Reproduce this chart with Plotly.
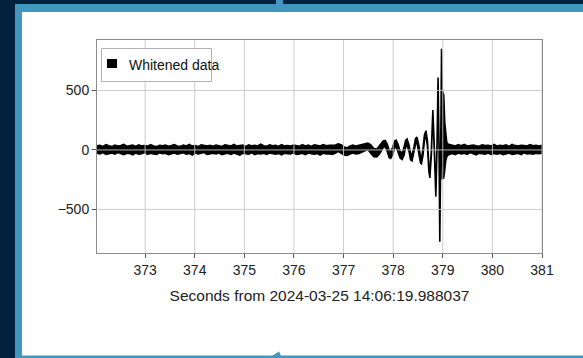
import numpy as np
import plotly.graph_objects as go

# ---------------- data ----------------
# noise before the chirp (band upper / lower envelope)
upper_pre = [34, 39, 30, 44, 35, 28, 41, 33, 37, 47,
             31, 36, 40, 29, 43, 34, 37, 32, 45, 34,
             28, 39, 35, 41, 31, 37, 44, 33, 30, 40,
             34, 46, 32, 37, 28, 42, 36, 33, 39, 31,
             41, 35, 29, 44, 37, 34, 47, 32, 37, 40,
             30, 43, 34, 38, 33, 49, 36, 31, 42, 35,
             39, 29, 44, 34, 37, 32, 41, 36, 31, 44,
             34, 40, 30, 43, 37, 33, 45, 35, 39, 41,
             40, 52, 44, 25, 18, 34, 40, 32, 38, 48,
             56, 58, 42, 12, 8, 35]
lower_pre = [-28, -34, -22, -38, -31, -26, -36, -21, -33, -39,
             -27, -30, -41, -25, -35, -31, -22, -37, -28, -34,
             -38, -24, -32, -28, -40, -30, -26, -35, -31, -23,
             -36, -29, -42, -25, -34, -30, -22, -38, -32, -28,
             -34, -25, -39, -31, -28, -37, -26, -33, -43, -27,
             -31, -35, -23, -40, -30, -34, -28, -37, -25, -32,
             -36, -29, -41, -27, -31, -34, -24, -37, -33, -28,
             -39, -26, -32, -35, -30, -43, -27, -34, -31, -37,
             -28, -12, -25, -42, -46, -34, -26, -34, -30, -20,
             -8, 5, -30, -56, -58, -30]
t_pre_start, t_pre_end = 372.03, 377.73

# chirp
t_chirp = [377.76, 377.80, 377.84, 377.88, 377.92, 377.95, 377.99, 378.03, 378.06, 378.10,
           378.14, 378.18, 378.22, 378.25, 378.28, 378.32, 378.35, 378.38, 378.42, 378.45,
           378.48, 378.52, 378.55, 378.57, 378.60, 378.63, 378.66, 378.69, 378.72, 378.74,
           378.77, 378.80, 378.83, 378.86, 378.885, 378.905, 378.925, 378.94, 378.958, 378.975,
           378.99, 379.02, 379.04, 379.06, 379.08, 379.10]
upper_chirp = [50, 75, 80, 50, -5, -15, 22, 75, 82, 45,
               -12, -28, 22, 80, 92, 40, -28, -42, 25, 95,
               108, 35, -62, -72, 8, 125, 162, 80, -128, -198,
               2, 335, 22, -358, 70, 608, 22, -728, 30, 850,
               500, 460, 230, 105, 65, 50]
lower_chirp = [-12, 22, 28, -12, -65, -72, -40, 18, 28, -12,
               -68, -80, -42, 22, 38, -12, -82, -92, -28, 48,
               62, -18, -108, -115, -48, 78, 128, 32, -178, -235,
               -42, 302, -22, -392, 28, 568, -32, -772, -32, 790,
               -240, -235, -165, -90, -58, -45]

# noise after the chirp
upper_post = [48, 40, 34, 44, 36, 47, 33, 38, 42, 35, 31, 43, 37, 40, 34, 46,
              32, 38, 35, 42, 30, 47, 36, 34, 40, 37, 33, 44, 35, 39, 32, 38]
lower_post = [-38, -30, -39, -26, -34, -28, -38, -22, -33, -41, -27, -31, -36, -25, -38, -30,
              -35, -28, -40, -31, -26, -37, -33, -28, -39, -23, -34, -30, -36, -27, -32, -28]
t_post_start, t_post_end = 379.13, 381.0

x_range = [372.03, 381.0]
y_range = [-866, 924]
x_ticks = [373, 374, 375, 376, 377, 378, 379, 380, 381]
y_ticks = [-500, 0, 500]
series_name = "Whitened data"
x_title = "Seconds from 2024-03-25 14:06:19.988037"

# ---------------- build ----------------
t_pre = list(np.linspace(t_pre_start, t_pre_end, len(upper_pre)))
t_post = list(np.linspace(t_post_start, t_post_end, len(upper_post)))
t_all = t_pre + t_chirp + t_post
up_all = upper_pre + upper_chirp + upper_post
lo_all = lower_pre + lower_chirp + lower_post

W, H = 583, 358
ML, MR, MT, MB = 97, 41, 40, 105
PW, PH = W - ML - MR, H - MT - MB


def X(px):
    return (px - ML) / PW


def Y(py):
    return (H - MB - py) / PH


FONT = "Liberation Sans, Arial, sans-serif"
NAVY = "#01213f"
BLUE = "#4297be"

fig = go.Figure()
fig.add_trace(go.Scatter(
    x=t_all + t_all[::-1], y=up_all + lo_all[::-1],
    fill="toself", fillcolor="black", mode="lines",
    line=dict(color="black", width=1.6), name=series_name, showlegend=False,
    hoverinfo="skip"))

shapes = []
# page decoration
shapes.append(dict(type="rect", xref="paper", yref="paper", x0=X(15), x1=X(W + 2), y0=Y(4), y1=Y(H + 2),
                   fillcolor=BLUE, line=dict(width=0), layer="below"))
shapes.append(dict(type="rect", xref="paper", yref="paper", x0=X(22), x1=X(W + 2), y0=Y(12), y1=Y(355.5),
                   fillcolor="white", line=dict(width=0), layer="below"))
shapes.append(dict(type="rect", xref="paper", yref="paper", x0=X(276), x1=X(283), y0=Y(-1), y1=Y(4),
                   fillcolor=BLUE, line=dict(width=0), layer="below"))
shapes.append(dict(type="path", xref="paper", yref="paper",
                   path=f"M {X(272)},{Y(356)} L {X(279)},{Y(351.5)} L {X(281)},{Y(356)} Z",
                   fillcolor=BLUE, line=dict(width=0), layer="below"))
# grid drawn over the data
GRID = "rgba(200,200,200,0.9)"
for xv in x_ticks:
    shapes.append(dict(type="line", xref="x", yref="paper", x0=xv, x1=xv, y0=0, y1=1,
                       line=dict(color=GRID, width=1), layer="above"))
for yv in y_ticks:
    shapes.append(dict(type="line", xref="paper", yref="y", x0=0, x1=1, y0=yv, y1=yv,
                       line=dict(color=GRID, width=1), layer="above"))
# legend box
shapes.append(dict(type="rect", xref="paper", yref="paper", x0=X(101.5), x1=X(211.5), y0=Y(48.5), y1=Y(81.5),
                   fillcolor="white", line=dict(color="#b0b0b0", width=1), layer="above"))
shapes.append(dict(type="rect", xref="paper", yref="paper", x0=X(107), x1=X(117), y0=Y(59), y1=Y(68),
                   fillcolor="black", line=dict(width=0), layer="above"))

fig.update_layout(
    width=W, height=H,
    margin=dict(l=ML, r=MR, t=MT, b=MB),
    paper_bgcolor=NAVY, plot_bgcolor="white",
    font=dict(family=FONT, size=14, color="#222222"),
    showlegend=False,
    shapes=shapes,
    annotations=[dict(xref="paper", yref="paper", x=X(127), y=Y(64.5), text=series_name,
                      showarrow=False, xanchor="left", yanchor="middle",
                      font=dict(family=FONT, size=14, color="#111111"))],
    xaxis=dict(range=x_range, tickvals=x_ticks, ticktext=[str(v) for v in x_ticks],
               showgrid=False, zeroline=False, showline=True, mirror=True,
               linecolor="#8c8c8c", linewidth=1, ticks="outside", ticklen=4,
               tickcolor="#555555", tickfont=dict(size=14),
               title=dict(text=x_title, font=dict(size=15.5, color="#222222"), standoff=13),
               layer="above traces"),
    yaxis=dict(range=y_range, tickvals=y_ticks,
               showgrid=False, zeroline=False, showline=True, mirror=True,
               linecolor="#8c8c8c", linewidth=1, ticks="outside", ticklen=4,
               tickcolor="#555555", tickfont=dict(size=14),
               layer="above traces"),
)

fig.write_html("out.html")
